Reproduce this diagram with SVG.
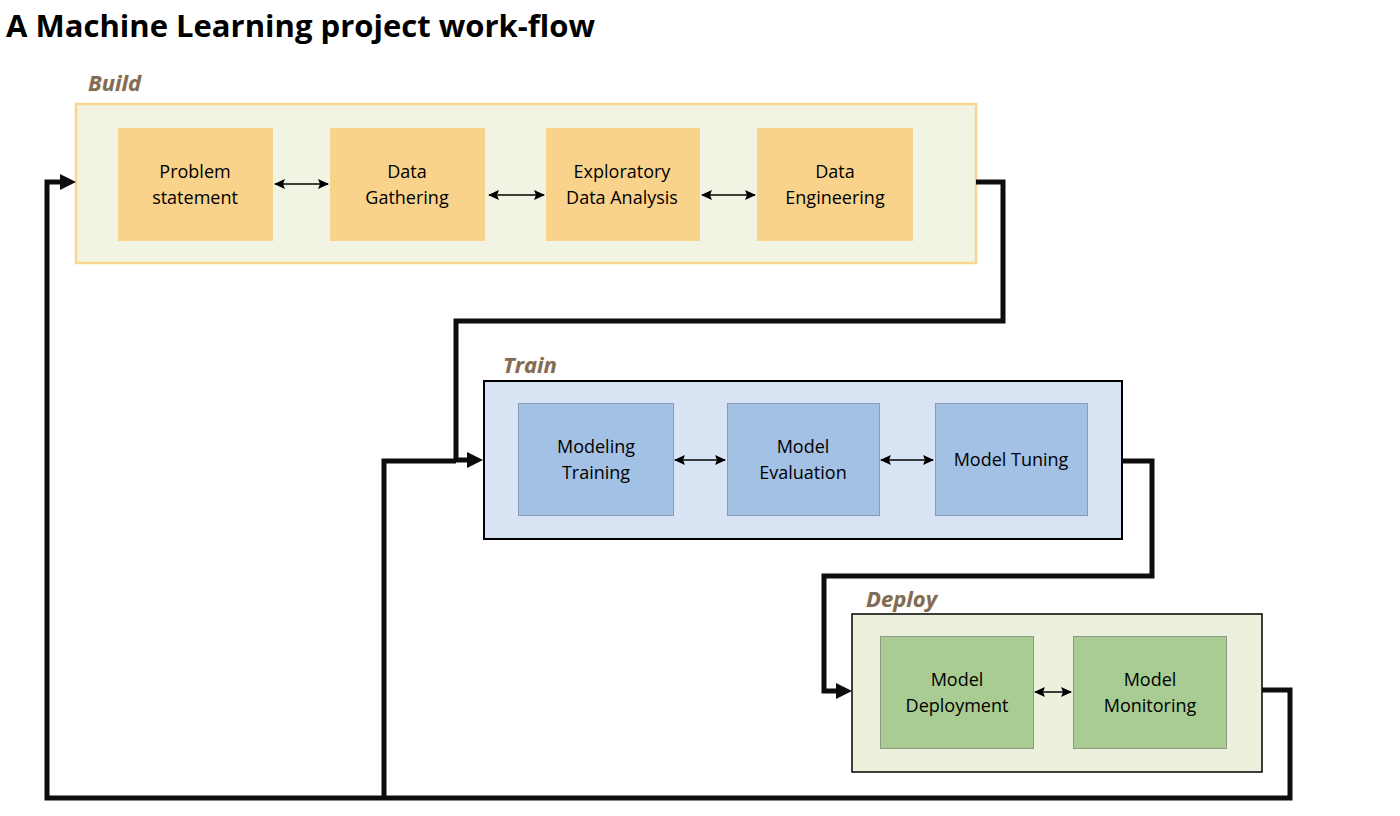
<svg xmlns="http://www.w3.org/2000/svg" width="1400" height="816" viewBox="0 0 1400 816">
<defs>
<style>
.title{font-family:"Open Sans","Liberation Sans",sans-serif;font-weight:bold;font-size:30px;fill:#000}
.stage{font-family:"Open Sans","Liberation Sans",sans-serif;font-weight:bold;font-style:italic;font-size:22px;fill:#7f6b59;stroke:#fbe0a8;stroke-width:0.6;paint-order:stroke}
.lbl{font-family:"Open Sans","Liberation Sans",sans-serif;font-size:18px;fill:#000;text-anchor:middle}
.build-c{fill:#f1f4e3;stroke:#fad68d;stroke-width:2.5}
.train-c{fill:#d8e3f3;stroke:#000;stroke-width:2}
.deploy-c{fill:#ebf1dd;stroke:#000;stroke-width:1.5}
.ob{fill:#f9d38b}
.bb{fill:#a2c1e4;stroke:#8a9bb3;stroke-width:1}
.gb{fill:#a8cc92;stroke:#8f9a86;stroke-width:1}
.thin{fill:none;stroke:#000;stroke-width:1.5;marker-start:url(#sa);marker-end:url(#sa)}
.thick{fill:none;stroke:#0d0d0d;stroke-width:5;stroke-linejoin:miter}
</style>
<marker id="sa" markerUnits="userSpaceOnUse" markerWidth="12" markerHeight="10" refX="10" refY="5" orient="auto-start-reverse" viewBox="0 0 12 10">
<path d="M0,0 L11,5 L0,10 L2,5 z" fill="#000"/>
</marker>
<marker id="ba" markerUnits="userSpaceOnUse" markerWidth="17" markerHeight="16" refX="1" refY="8" orient="auto" viewBox="0 0 17 16">
<path d="M0,0 L16,8 L0,16 z" fill="#0d0d0d"/>
</marker>
</defs>
<rect width="1400" height="816" fill="#fff"/>
<text class="title" x="6" y="37" textLength="589" lengthAdjust="spacingAndGlyphs">A Machine Learning project work-flow</text>

<g id="build">
<text class="stage" x="88" y="91">Build</text>
<rect class="build-c" x="76" y="104" width="900" height="159"/>
</g>
<g id="problem-statement">
<rect class="ob" x="118" y="128" width="155" height="113"/>
<text class="lbl" x="195" y="178">Problem</text>
<text class="lbl" x="195" y="204">statement</text>
</g>
<g id="data-gathering">
<rect class="ob" x="330" y="128" width="155" height="113"/>
<text class="lbl" x="407" y="178">Data</text>
<text class="lbl" x="407" y="204">Gathering</text>
</g>
<g id="eda">
<rect class="ob" x="546" y="128" width="154" height="113"/>
<text class="lbl" x="622" y="178">Exploratory</text>
<text class="lbl" x="622" y="204">Data Analysis</text>
</g>
<g id="data-engineering">
<rect class="ob" x="757" y="128" width="156" height="113"/>
<text class="lbl" x="835" y="178">Data</text>
<text class="lbl" x="835" y="204">Engineering</text>
</g>

<g id="train">
<text class="stage" x="503" y="373">Train</text>
<rect class="train-c" x="484" y="381" width="638" height="158"/>
</g>
<g id="modeling-training">
<rect class="bb" x="518.5" y="403.5" width="155" height="112"/>
<text class="lbl" x="596" y="453">Modeling</text>
<text class="lbl" x="596" y="479">Training</text>
</g>
<g id="model-evaluation">
<rect class="bb" x="727.5" y="403.5" width="152" height="112"/>
<text class="lbl" x="803" y="453">Model</text>
<text class="lbl" x="803" y="479">Evaluation</text>
</g>
<g id="model-tuning">
<rect class="bb" x="935.5" y="403.5" width="152" height="112"/>
<text class="lbl" x="1011" y="466">Model Tuning</text>
</g>

<g id="deploy">
<text class="stage" x="866" y="607">Deploy</text>
<rect class="deploy-c" x="852" y="614" width="410" height="158"/>
</g>
<g id="model-deployment">
<rect class="gb" x="880.5" y="636.5" width="153" height="112"/>
<text class="lbl" x="957" y="686">Model</text>
<text class="lbl" x="957" y="712">Deployment</text>
</g>
<g id="model-monitoring">
<rect class="gb" x="1073.5" y="636.5" width="153" height="112"/>
<text class="lbl" x="1150" y="686">Model</text>
<text class="lbl" x="1150" y="712">Monitoring</text>
</g>

<g id="connectors">
<path class="thick" d="M976,182 H1003 V321 H456 V460 H468" marker-end="url(#ba)"/>
<path class="thick" d="M384,798 V461 H456"/>
<path class="thick" d="M1122,461 H1152 V576 H824 V691 H837" marker-end="url(#ba)"/>
<path class="thick" d="M1262,690 H1290 V798 H47 V182 H61" marker-end="url(#ba)"/>
<path class="thin" d="M275,184 H328"/>
<path class="thin" d="M489,195 H544"/>
<path class="thin" d="M702,195 H755"/>
<path class="thin" d="M675,460 H725"/>
<path class="thin" d="M881,460 H933"/>
<path class="thin" d="M1035,692 H1071"/>
</g>
</svg>
